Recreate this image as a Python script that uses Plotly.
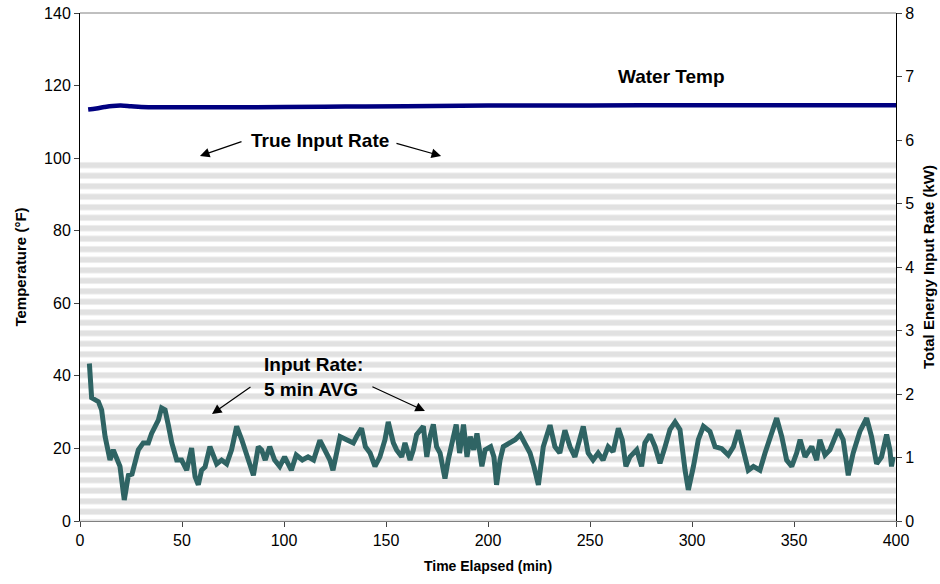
import plotly.graph_objects as go

# ---------------- data ----------------
# Water temperature (°F), left axis
water_t = [4, 8, 12, 16, 20, 25, 30, 40, 60, 80, 100, 130, 160, 200, 250, 300, 350, 400]
water_f = [113.4, 113.7, 114.1, 114.4, 114.5, 114.3, 114.1, 114.0, 114.0, 114.0, 114.1, 114.2, 114.3, 114.5, 114.5, 114.6, 114.6, 114.6]

# True input rate envelope (kW), right axis: burner cycles between 0 and peak
true_t = [0, 400]
true_kw = [5.7, 5.7]

# 5-minute average input rate (kW), right axis
avg_t = [4.6, 5.7, 9, 10.6, 12.3, 14.7, 16.3, 18, 19.6, 21.7, 23.7, 25.5, 28.6, 31, 33.5, 35.1, 38.4, 40,
         41.7, 43.3, 45, 47.4, 49.8, 52.3, 54.7, 56.4, 58, 59.6, 61.3, 63.7, 65.4, 67, 69.4, 71.9, 74.3,
         76.8, 79.3, 81.7, 85, 87.4, 89, 90.8, 93, 95.4, 97.9, 100.3, 103.6, 106, 109, 111.8, 114.5,
         117.6, 120.1, 122.5, 124, 127.5, 130.7, 134, 135.6, 138, 139.9, 142.2, 144.6, 147, 149.5, 151.1,
         153.6, 155.2, 157.7, 159.3, 161.8, 163.4, 165, 168.3, 170, 171.6, 173.2, 174.8, 176.5, 178.9,
         180.5, 182.2, 184.4, 186.1, 188, 189.7, 191.3, 193, 194.6, 197, 198.6, 201.3, 202.9, 204.2,
         205.9, 207.5, 210.8, 213.3, 215.8, 218.2, 220.6, 222.5, 224.7, 227.1, 230.4, 232.8, 235.2,
         237.7, 240.2, 242.6, 245, 246.7, 249.1, 251.5, 254, 256.4, 258.9, 261.3, 263.9, 265.8, 267.6,
         269.6, 272.9, 275.3, 276.9, 279.4, 281.9, 284.3, 286.8, 289.2, 291.7, 294.1, 296.6, 298.2,
         300.7, 303.1, 305.6, 308.8, 311.3, 314.6, 317.8, 320.3, 322.7, 325.2, 327.6, 330.1, 333.3,
         335.8, 338.2, 341.5, 344, 346.4, 348.9, 351.3, 353, 355.4, 358.7, 361.1, 362.7, 365.2, 367.6,
         371.7, 374.1, 376.6, 379, 382.3, 385.6, 388, 390.5, 392.9, 395.4, 397, 397.8, 398.6]
avg_kw = [2.48, 1.94, 1.88, 1.75, 1.33, 0.96, 1.12, 0.98, 0.86, 0.33, 0.72, 0.74, 1.12, 1.23, 1.23, 1.38, 1.59, 1.78,
          1.75, 1.51, 1.23, 0.96, 0.96, 0.80, 1.15, 0.70, 0.57, 0.80, 0.85, 1.17, 1.05, 0.90, 0.96, 0.90, 1.12,
          1.49, 1.28, 1.05, 0.72, 1.17, 1.12, 0.96, 1.17, 0.96, 0.86, 1.01, 0.80, 1.04, 0.96, 1.01, 0.96,
          1.27, 1.12, 0.96, 0.80, 1.33, 1.28, 1.23, 1.33, 1.46, 1.17, 1.07, 0.86, 1.01, 1.28, 1.56,
          1.23, 1.12, 1.01, 1.23, 0.96, 1.12, 1.36, 1.49, 1.01, 1.33, 1.52, 1.17, 1.07, 0.67,
          0.96, 1.23, 1.52, 1.07, 1.52, 1.01, 1.33, 1.12, 1.38, 0.86, 1.12, 1.17, 1.01, 0.57,
          0.96, 1.17, 1.23, 1.28, 1.36, 1.23, 1.07, 0.86, 0.57, 1.17, 1.51, 1.17, 1.07,
          1.43, 1.17, 1.01, 1.33, 1.49, 1.07, 0.96, 1.07, 0.96, 1.17, 1.09, 1.46, 1.28, 0.86,
          1.01, 1.12, 0.86, 1.23, 1.36, 1.17, 0.91, 1.17, 1.44, 1.56, 1.44, 0.80, 0.49,
          0.86, 1.28, 1.49, 1.41, 1.17, 1.14, 1.04, 1.17, 1.43, 1.07, 0.80, 0.86, 0.80,
          1.07, 1.33, 1.62, 1.33, 0.96, 0.86, 1.07, 1.28, 1.01, 1.17, 0.96, 1.28, 1.04, 1.12,
          1.44, 1.28, 0.72, 1.07, 1.41, 1.62, 1.33, 0.90, 1.01, 1.36, 1.12, 0.86, 1.01]

x_ticks = [0, 50, 100, 150, 200, 250, 300, 350, 400]
temp_ticks = [0, 20, 40, 60, 80, 100, 120, 140]
kw_ticks = [0, 1, 2, 3, 4, 5, 6, 7, 8]

FONT = "Liberation Sans, Arial, sans-serif"

fig = go.Figure()

fig.add_trace(go.Scatter(
    x=true_t, y=true_kw, yaxis="y2", mode="lines",
    line=dict(width=0, color="rgba(0,0,0,0)"),
    fill="tozeroy", fillcolor="rgba(255,255,255,0)",
    fillpattern=dict(shape="-", fgcolor="#C4C4C4", bgcolor="rgba(255,255,255,0)",
                     size=10.5, solidity=0.55),
    hoverinfo="skip", showlegend=False,
))

fig.add_trace(go.Scatter(
    x=avg_t, y=avg_kw, yaxis="y2", mode="lines",
    line=dict(color="#2F6464", width=5),
    showlegend=False,
))

fig.add_trace(go.Scatter(
    x=water_t, y=water_f, yaxis="y", mode="lines",
    line=dict(color="#000080", width=4.5, shape="spline"),
    showlegend=False,
))

fig.update_layout(
    width=940, height=584,
    margin=dict(l=80, r=44, t=13, b=63),
    plot_bgcolor="white", paper_bgcolor="white",
    font=dict(family=FONT, color="black", size=16),
    xaxis=dict(range=[0, 400], tickvals=x_ticks, ticks="outside", ticklen=5, automargin=False,
               showline=True, linecolor="#808080", linewidth=1, showgrid=False, zeroline=False,
               title=dict(text="<b>Time Elapsed (min)</b>", font=dict(size=14), standoff=12),
               tickfont=dict(size=16)),
    yaxis=dict(range=[0, 140], tickvals=temp_ticks, ticks="outside", ticklen=5, automargin=False,
               showline=True, linecolor="black", linewidth=1, showgrid=False, zeroline=False,
               title=dict(text="<b>Temperature (°F)</b>", font=dict(size=15), standoff=13),
               tickfont=dict(size=16)),
    yaxis2=dict(range=[0, 8], tickvals=kw_ticks, ticks="outside", ticklen=5, overlaying="y", side="right",
                automargin=False,
                showline=True, linecolor="black", linewidth=1, showgrid=False, zeroline=False,
                title=dict(text="<b>Total Energy Input Rate (kW)</b>", font=dict(size=15), standoff=10),
                tickfont=dict(size=16)),
)

# top border of plot area
fig.add_shape(type="line", xref="paper", yref="paper", x0=0, x1=1, y0=1, y1=1,
              line=dict(color="#808080", width=1))

fig.add_annotation(x=290, y=122.6, xref="x", yref="y", text="<b>Water Temp</b>",
                   showarrow=False, font=dict(size=19))
fig.add_annotation(x=117.6, y=105, xref="x", yref="y", text="<b>True Input Rate</b>",
                   showarrow=False, font=dict(size=19))
fig.add_annotation(x=89.2, y=39.7, xref="x", yref="y", text="<b>Input Rate:<br>5 min AVG</b>",
                   showarrow=False, font=dict(size=19), align="left", xanchor="left")

arrows = [
    (58.8, 100.6, 79.9, 104.7),
    (177.0, 100.6, 154.4, 104.2),
    (64.7, 29.5, 84.3, 37.2),
    (169.1, 30.3, 142.6, 37.2),
]
for hx, hy, tx, ty in arrows:
    fig.add_annotation(x=hx, y=hy, ax=tx, ay=ty, xref="x", yref="y", axref="x", ayref="y",
                       text="", showarrow=True, arrowhead=2, arrowsize=1.6, arrowwidth=1.2,
                       arrowcolor="black")

fig.write_html("out.html")
